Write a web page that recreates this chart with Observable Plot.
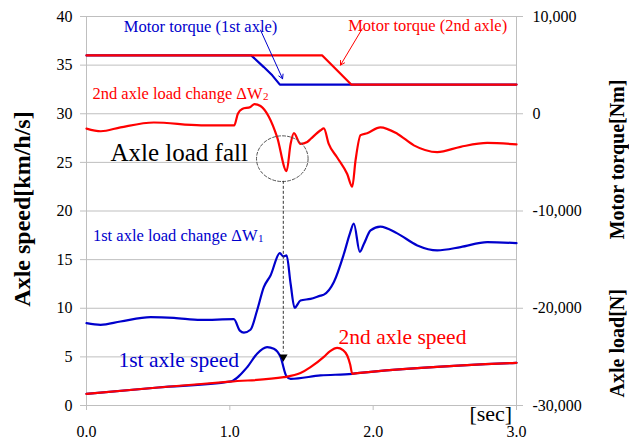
<!DOCTYPE html>
<html>
<head>
<meta charset="utf-8">
<script src="https://cdn.jsdelivr.net/npm/d3@7"></script>
<script src="https://cdn.jsdelivr.net/npm/@observablehq/plot@0.6"></script>
<style>
  html, body { margin: 0; padding: 0; background: #fff; }
</style>
</head>
<body>
<div id="chart"></div>
<script>
// ---- Data (time in seconds) ----
// Motor torque [Nm]
const torque1T = [0, 1.149, 1.237, 1.296, 1.349, 3.0];
const torque1  = [6000, 6000, 4800, 3950, 3000, 3000];
const torque2T = [0, 1.645, 1.847, 3.0];
const torque2  = [6000, 6000, 3000, 3000];

// Axle load change [N]
const dW2T = [0, 0.1, 0.237, 0.47, 0.8, 1.03, 1.056, 1.086, 1.144, 1.172, 1.214, 1.272, 1.33, 1.396, 1.424, 1.447, 1.493, 1.54, 1.563, 1.633, 1.656, 1.69, 1.749, 1.819, 1.854, 1.877, 1.912, 1.958, 2.05, 2.168, 2.284, 2.447, 2.61, 2.796, 3.0];
const dW2  = [-1530, -1800, -1400, -900, -1200, -1200, 0, 500, 700, 1000, 800, -300, -2400, -5900, -3100, -2000, -3100, -2900, -2600, -1700, -1500, -3100, -4500, -6200, -7500, -4800, -2200, -2000, -1400, -2050, -3250, -3940, -3400, -3000, -3150];
const dW1T = [0, 0.098, 0.237, 0.447, 0.61, 0.796, 1.028, 1.07, 1.098, 1.144, 1.19, 1.237, 1.284, 1.349, 1.372, 1.396, 1.424, 1.452, 1.493, 1.563, 1.633, 1.656, 1.726, 1.796, 1.838, 1.865, 1.907, 1.935, 1.982, 2.05, 2.168, 2.308, 2.447, 2.61, 2.796, 3.0];
const dW1  = [-21530, -21700, -21360, -20910, -20980, -21200, -21120, -22300, -22500, -22210, -20230, -17830, -16630, -14330, -14670, -14570, -17480, -19950, -19200, -19030, -18700, -18600, -17300, -14400, -12300, -11300, -14200, -13400, -12000, -11600, -12300, -13540, -14050, -13710, -13200, -13300];

// Axle speed [km/h]
const speed1T = [0, 0.5, 1.0, 1.121, 1.19, 1.26, 1.307, 1.354, 1.396, 1.424, 1.633, 1.854, 1.889, 3.0];
const speed1  = [1.2, 1.85, 2.45, 3.94, 5.32, 6.0, 5.83, 4.97, 2.98, 2.74, 3.09, 3.26, 3.32, 4.39];
const speed2T = [0, 0.5, 1.0, 1.377, 1.493, 1.563, 1.656, 1.70, 1.749, 1.79, 1.819, 1.84, 1.854, 1.889, 3.0];
const speed2  = [1.2, 1.85, 2.45, 2.91, 3.33, 3.94, 5.0, 5.6, 5.93, 5.7, 5.14, 4.2, 3.26, 3.32, 4.39];

// Axes
const xTicks = [0, 1, 2, 3];
const leftTicks = [0, 5, 10, 15, 20, 25, 30, 35, 40];
const rightTicks = [-30000, -20000, -10000, 0, 10000];

// Annotation anchors (data units: seconds, left axis units)
const fallCenter = [1.366, 25.38];
const fallRadius = [0.18, 2.35];
const fallArrow = {x: 1.373, y1: 23.05, y2: 5.5, head: 5.0};

// ---- helpers ----
const toLeft = v => v / 1000 + 30;           // right-axis value -> left-axis units
const series = (ts, vs, f = d => d) => ts.map((t, i) => ({t, v: f(vs[i])}));
const fmtRight = d => { const n = Math.round((d - 30) * 1000); return (n < 0 ? "-" : "") + d3.format(",")(Math.abs(n)); };

const RED = "#ff0000", BLUE = "#0000cc", GRID = "#bfbfbf";

const ellipse = d3.range(0, 64).map(i => {
  const a = i / 64 * 2 * Math.PI;
  return {t: fallCenter[0] + fallRadius[0] * Math.cos(a), v: fallCenter[1] + fallRadius[1] * Math.sin(a)};
});

const lineOpts = {x: "t", y: "v", strokeWidth: 2.2, strokeLinejoin: "round"};

const chart = Plot.plot({
  width: 629,
  height: 442,
  marginLeft: 86,
  marginRight: 113,
  marginTop: 16,
  marginBottom: 37,
  x: {domain: [0, 3], axis: null},
  y: {domain: [0, 40], axis: null},
  style: {fontFamily: "Liberation Serif", fontSize: "16px", background: "#fff", color: "#000", overflow: "visible"},
  marks: [
    Plot.gridY(leftTicks.filter(d => d > 0), {stroke: GRID, strokeOpacity: 1, strokeWidth: 1}),
    Plot.ruleX([0, 3], {stroke: GRID, strokeWidth: 1}),
    Plot.ruleY([0], {stroke: GRID, strokeWidth: 1}),
    // left axis
    Plot.axisY({ticks: leftTicks, tickSize: 6, tickPadding: 8, fontSize: 16, stroke: GRID, fill: "#000", label: null}),
    // right axis
    Plot.axisY({anchor: "right", ticks: rightTicks.map(toLeft), tickFormat: fmtRight, tickSize: 6, tickPadding: 10, fontSize: 16, stroke: GRID, fill: "#000", label: null}),
    // x axis
    Plot.axisX({ticks: xTicks, tickFormat: d3.format(".1f"), tickSize: 5, tickPadding: 15, fontSize: 16, stroke: GRID, fill: "#000", label: null}),

    // series (blue below red)
    Plot.line(series(torque1T, torque1, toLeft), {...lineOpts, stroke: BLUE}),
    Plot.line(series(torque2T, torque2, toLeft), {...lineOpts, stroke: RED}),
    Plot.line(series(dW1T, dW1, toLeft), {...lineOpts, stroke: BLUE, curve: "monotone-x"}),
    Plot.line(series(dW2T, dW2, toLeft), {...lineOpts, stroke: RED, curve: "monotone-x"}),
    Plot.line(series(speed1T, speed1), {...lineOpts, stroke: BLUE, curve: "monotone-x"}),
    Plot.line(series(speed2T, speed2), {...lineOpts, stroke: RED, curve: "monotone-x"}),

    // annotations
    Plot.line(ellipse, {x: "t", y: "v", curve: "linear-closed", stroke: "#555", strokeWidth: 1, strokeDasharray: "3,2"}),
    Plot.ruleX([fallArrow], {x: "x", y1: "y1", y2: "y2", stroke: "#333", strokeWidth: 1, strokeDasharray: "3,2"}),
    Plot.dot([fallArrow], {x: "x", y: "head", symbol: "triangle", r: 3.2, rotate: 180, fill: "#000", stroke: "none"}),

    Plot.text(["Motor torque (1st axle)"], {x: 0.796, y: 38.9, text: d => d, fill: BLUE, fontSize: 16.5}),
    Plot.arrow([{x1: 1.214, y1: 38.6, x2: 1.368, y2: 33.6}], {x1: "x1", y1: "y1", x2: "x2", y2: "y2", stroke: BLUE, strokeWidth: 1, headLength: 7}),
    Plot.text(["Motor torque (2nd axle)"], {x: 2.38, y: 39.1, text: d => d, fill: RED, fontSize: 16.5}),
    Plot.arrow([{x1: 1.924, y1: 38.75, x2: 1.772, y2: 35.0}], {x1: "x1", y1: "y1", x2: "x2", y2: "y2", stroke: RED, strokeWidth: 1, headLength: 7}),

    Plot.text(["2nd axle load change \u0394W"], {x: 1.228, y: 32.07, text: d => d, fill: RED, fontSize: 16.5, textAnchor: "end"}),
    Plot.text(["2"], {x: 1.228, y: 32.07, text: d => d, fill: RED, fontSize: 11, textAnchor: "start", dx: 0.5, dy: 3}),
    Plot.text(["1st axle load change \u0394W"], {x: 1.193, y: 17.49, text: d => d, fill: BLUE, fontSize: 16.5, textAnchor: "end"}),
    Plot.text(["1"], {x: 1.193, y: 17.49, text: d => d, fill: BLUE, fontSize: 11, textAnchor: "start", dx: 0.5, dy: 3}),

    Plot.text(["Axle load fall"], {x: 0.167, y: 25.93, text: d => d, fill: "#000", fontSize: 25, textAnchor: "start"}),
    Plot.text(["1st axle speed"], {x: 0.223, y: 4.63, text: d => d, fill: BLUE, fontSize: 21.5, textAnchor: "start"}),
    Plot.text(["2nd axle speed"], {x: 1.759, y: 7.03, text: d => d, fill: RED, fontSize: 21.5, textAnchor: "start"}),
    Plot.text(["[sec]"], {x: 2.97, y: -0.9, text: d => d, fill: "#000", fontSize: 22, textAnchor: "end"}),

    // axis titles
    Plot.text(["Axle speed[km/h/s]"], {frameAnchor: "left", dx: -64, dy: -2, rotate: -90, textAnchor: "middle", text: d => d, fontSize: 24, fontWeight: "bold"}),
    Plot.text(["Motor torque[Nm]"], {x: 3, y: 25.3, dx: 101, rotate: -90, textAnchor: "middle", text: d => d, fontSize: 20, fontWeight: "bold"}),
    Plot.text(["Axle load[N]"], {x: 3, y: 6.4, dx: 101, rotate: -90, textAnchor: "middle", text: d => d, fontSize: 20, fontWeight: "bold"})
  ]
});
document.getElementById("chart").appendChild(chart);
</script>
</body>
</html>
